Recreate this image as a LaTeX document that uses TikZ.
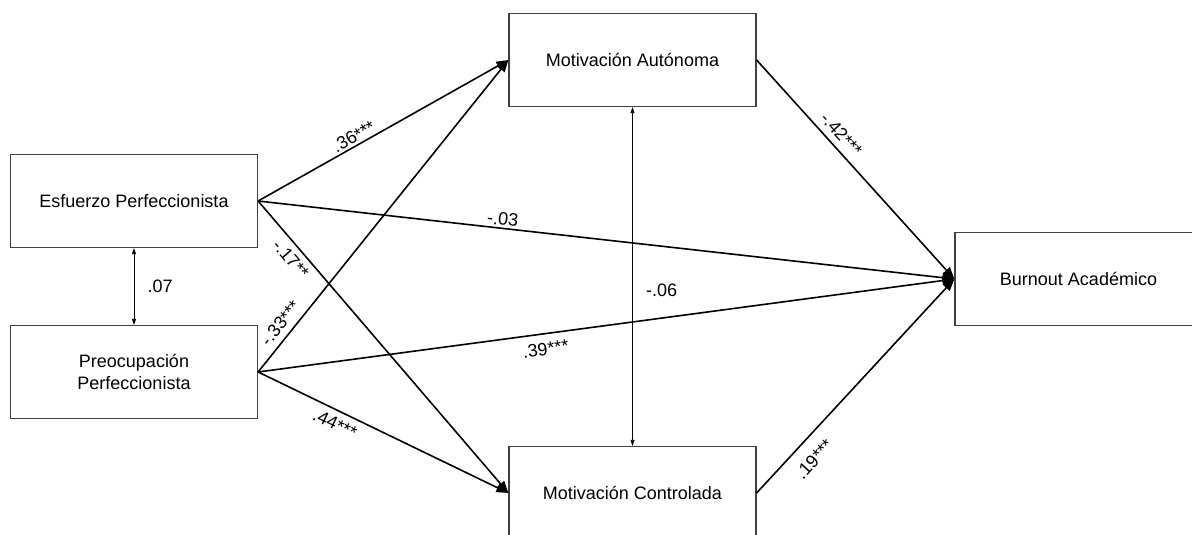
\documentclass[tikz,border=0pt]{standalone}
\usepackage{fontspec}
\setmainfont{Liberation Sans}
\usetikzlibrary{
  positioning,
  arrows.meta
}

\begin{document}
\begin{tikzpicture}[
    x=1pt, y=-1pt, >={Triangle[length=12pt,width=9pt]},
    font=\fontsize{18}{22}\selectfont,
    var/.style={
      rectangle,
      draw=black!75,
      line width=1.2pt,
      fill=white,
      inner sep=0pt,
      align=center,
      minimum width=247pt,
      minimum height=93pt
    },
    path/.style={->, line width=1.6pt},
    cov/.style={{Triangle[length=6pt,width=4pt]}-{Triangle[length=6pt,width=4pt]}, line width=0.8pt},
    coef/.style={sloped, inner sep=2pt}
  ]
  \useasboundingbox (0,0) rectangle (1192,535);

  \begin{scope}
    \node[var] (esfuerzo) at (134,201) {Esfuerzo Perfeccionista};
    \node[var] (preocupacion) at (134,372) {Preocupación\\Perfeccionista};
    \node[var] (autonoma) at (632.5,60) {Motivación Autónoma};
    \node[var] (controlada) at (632.5,493) {Motivación Controlada};
    \node[var] (burnout) at (1078.5,279) {Burnout Académico};

    \draw[cov] (esfuerzo) -- node[right=10pt] (r07) {.07} (preocupacion);
    \draw[cov] (autonoma) -- node[pos=0.54, right=10pt] (r06) {-.06} (controlada);

    \draw[path] (esfuerzo.east) -- node[coef, pos=0.40, above] (b36) {.36***} (autonoma.west);
    \draw[path] (esfuerzo.east) -- node[coef, pos=0.17, below=4pt] (b17) {-.17**} (controlada.west);
    \draw[path] (esfuerzo.east) -- node[coef, pos=0.35, above] (b03) {-.03} (burnout.west);
    \draw[path] (preocupacion.east) -- node[coef, pos=0.13, above=4pt] (b33) {-.33***} (autonoma.west);
    \draw[path] (preocupacion.east) -- node[coef, pos=0.33, below=4pt] (b44) {.44***} (controlada.west);
    \draw[path] (preocupacion.east) -- node[coef, pos=0.41, below=6pt] (b39) {.39***} (burnout.west);
    \draw[path] (autonoma.east) -- node[coef, pos=0.38, above=4pt] (b42) {-.42***} (burnout.west);
    \draw[path] (controlada.east) -- node[coef, pos=0.22, below=10pt] (b19) {.19***} (burnout.west);
  \end{scope}
\end{tikzpicture}
\end{document}
